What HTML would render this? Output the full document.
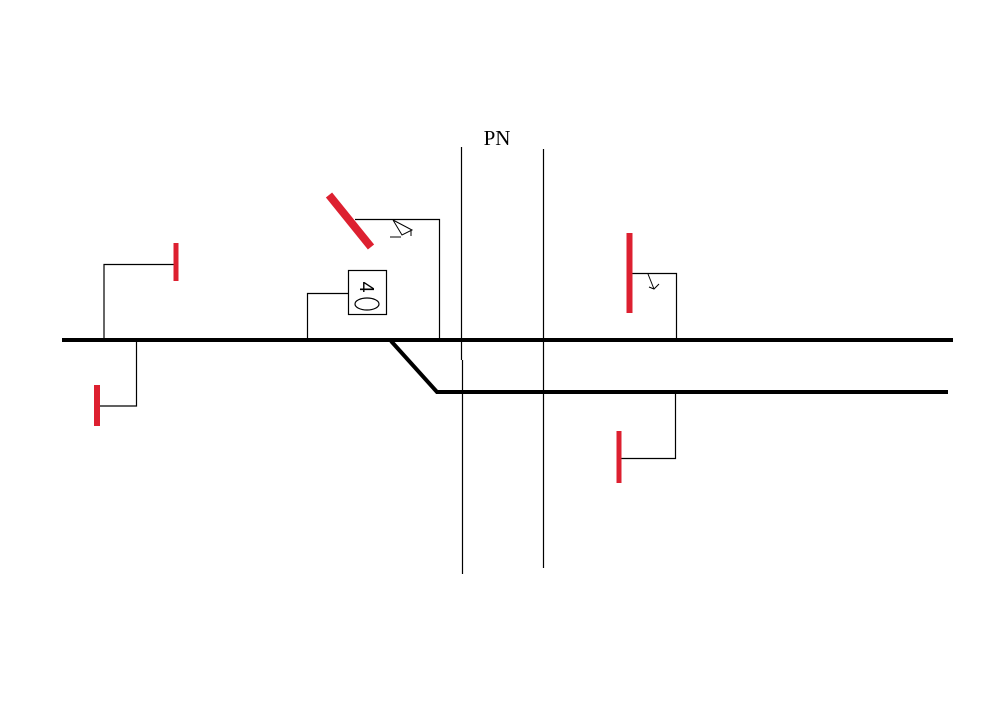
<!DOCTYPE html>
<html><head><meta charset="utf-8"><style>
html,body{margin:0;padding:0;background:#fff;}
svg{display:block;}
</style></head><body>
<svg width="1000" height="714" viewBox="0 0 1000 714" xmlns="http://www.w3.org/2000/svg">
<rect width="1000" height="714" fill="#fff"/>
<g stroke="#000" fill="none">
<line x1="62" y1="340" x2="953" y2="340" stroke-width="4"/>
<polyline points="391,341 437,392 948,392" stroke-width="4"/>
<line x1="461.5" y1="147" x2="461.5" y2="360" stroke-width="1.2"/>
<line x1="462.5" y1="360" x2="462.5" y2="574" stroke-width="1.2"/>
<line x1="543.5" y1="149" x2="543.5" y2="568" stroke-width="1.2"/>
<polyline points="104,340 104,264.5 176,264.5" stroke-width="1.2"/>
<polyline points="136.5,340 136.5,406 99,406" stroke-width="1.2"/>
<polyline points="307.5,340 307.5,293.5 348,293.5" stroke-width="1.2"/>
<polyline points="355,219.5 439.5,219.5 439.5,340" stroke-width="1.2"/>
<polyline points="631,273.5 676.5,273.5 676.5,340" stroke-width="1.2"/>
<polyline points="675.5,392 675.5,458.5 621,458.5" stroke-width="1.2"/>
<rect x="348.5" y="270.5" width="38" height="44" stroke-width="1.2"/>
<ellipse cx="367" cy="304" rx="12" ry="6" stroke-width="1.2"/>
<polyline points="393,220 402,235 412,230 393,220" stroke-width="1"/>
<line x1="390" y1="237" x2="401" y2="237" stroke-width="1"/>
<line x1="411" y1="230" x2="411" y2="236" stroke-width="1"/>
<polyline points="648,274 654,289" stroke-width="1"/>
<polyline points="649,287 654,289 659,284" stroke-width="1"/>
</g>
<text x="0" y="0" transform="translate(366,287) rotate(90)" text-anchor="middle" dominant-baseline="central" font-family="Liberation Sans, sans-serif" font-size="20" fill="#000">4</text>
<g fill="#dd2030">
<rect x="173.5" y="243" width="5" height="38"/>
<rect x="94" y="385" width="6" height="41"/>
<rect x="626.5" y="233" width="6" height="80"/>
<rect x="616.5" y="431" width="5" height="52"/>
</g>
<line x1="329" y1="195" x2="371" y2="247" stroke="#dd2030" stroke-width="8"/>
<text x="497" y="145" text-anchor="middle" font-family="Liberation Serif, serif" font-size="21" fill="#000">PN</text>
</svg>
</body></html>
